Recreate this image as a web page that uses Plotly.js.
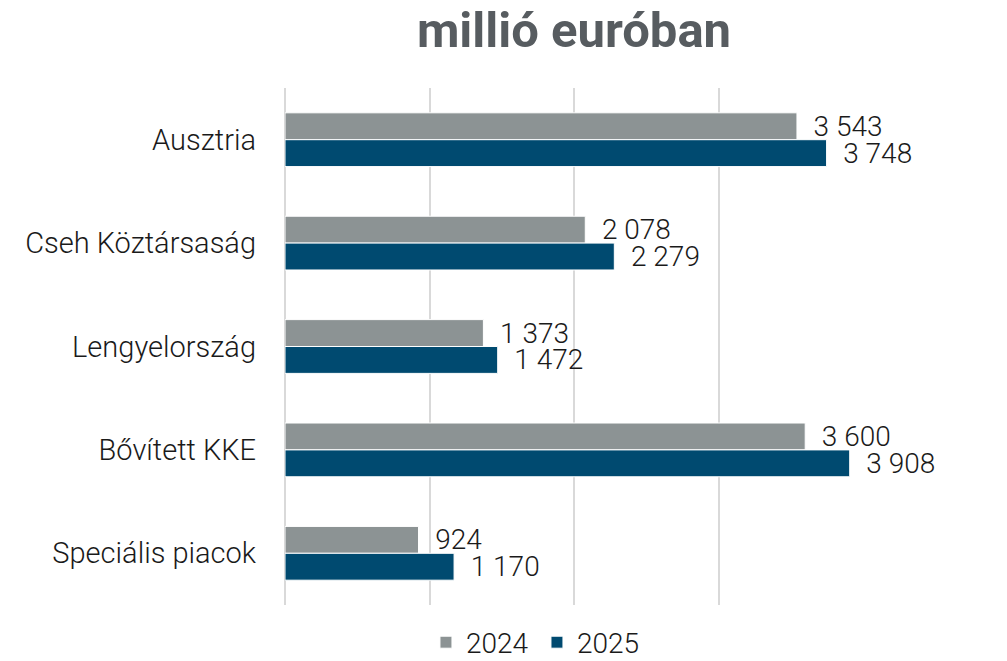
<!DOCTYPE html>
<html><head><meta charset="utf-8">
<script src="https://cdn.plot.ly/plotly-3.0.1.min.js"></script>
<style>body{margin:0;background:#fff}#chart{width:1007px;height:661px}</style>
</head><body><div id="chart"></div>
<script>
const categories = ["Ausztria", "Cseh Köztársaság", "Lengyelország", "Bővített KKE", "Speciális piacok"];
const values2024 = [3543, 2078, 1373, 3600, 924];
const values2025 = [3748, 2279, 1472, 3908, 1170];
const seriesNames = ["2024", "2025"];

function fmt(v){ return String(v).replace(/\B(?=(\d{3})+(?!\d))/g, " "); }

const common = {
  type: 'bar', orientation: 'h', y: categories,
  textposition: 'outside', constraintext: 'none', cliponaxis: false,
  textfont: {family: 'Roboto', size: 28, color: '#1a1a1a', weight: 300},
  hoverinfo: 'x+name'
};
const traces = [
  Object.assign({}, common, {name: seriesNames[0], x: values2024, text: values2024.map(v => '  ' + fmt(v)),
    marker: {color: '#8c9394', line: {color: '#ffffff', width: 1}}}),
  Object.assign({}, common, {name: seriesNames[1], x: values2025, text: values2025.map(v => '  ' + fmt(v)),
    marker: {color: '#004a70', line: {color: '#ffffff', width: 1}}})
];
const layout = {
  width: 1007, height: 661,
  margin: {l: 285, r: 144, t: 88, b: 56, autoexpand: false},
  paper_bgcolor: '#fff', plot_bgcolor: '#fff',
  barmode: 'group', bargap: 0.48, bargroupgap: 0,
  title: {text: '<b>millió euróban</b>', x: 0.5, xref: 'paper', xanchor: 'center', y: 0.955, yanchor: 'middle',
    font: {family: 'Roboto', size: 49, color: '#575c60'}},
  xaxis: {range: [0, 4000], dtick: 1000, showticklabels: false, showgrid: true, gridcolor: '#d9d9d9', gridwidth: 2,
    zeroline: true, zerolinecolor: '#d9d9d9', zerolinewidth: 2, fixedrange: true},
  yaxis: {autorange: 'reversed', showgrid: false, zeroline: false, ticks: '', ticklabelstandoff: 28,
    tickfont: {family: 'Roboto', size: 29, color: '#1a1a1a', weight: 300}, fixedrange: true},
  legend: {orientation: 'h', xref: 'container', yref: 'container', x: 0.423, xanchor: 'left', y: 0.028, yanchor: 'middle',
    font: {family: 'Roboto', size: 28, color: '#1a1a1a', weight: 300}, entrywidth: 66, entrywidthmode: 'pixels', traceorder: 'normal'},
  showlegend: true
};
Plotly.newPlot('chart', traces, layout, {displayModeBar: false, staticPlot: true});
</script></body></html>
